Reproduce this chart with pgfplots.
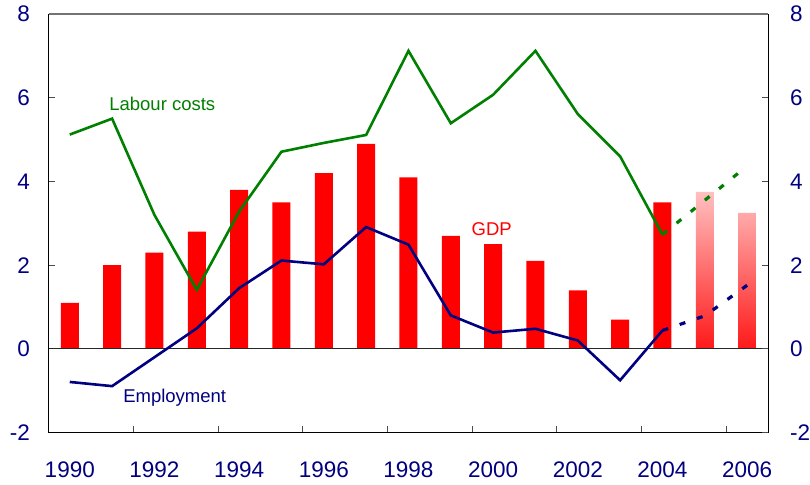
\documentclass[border=0pt]{standalone}
\usepackage{fontspec}
\setmainfont{Liberation Sans}
\usepackage{pgfplots}
\pgfplotsset{compat=1.18}
\definecolor{navyc}{RGB}{0,0,128}
\definecolor{greenc}{RGB}{0,128,0}
\definecolor{pinkc}{RGB}{255,192,192}
\definecolor{redc}{RGB}{255,0,0}
\definecolor{redb}{RGB}{255,25,25}
\begin{document}
\begin{tikzpicture}
\pgfplotsset{common/.style={
  scale only axis, width=719.7bp, height=418.6bp,
  xmin=1989.5, xmax=2006.5, ymin=-2, ymax=8,
  tick align=inside, major tick length=6bp, minor tick length=7bp,
  tick style={draw=black!70, line width=0.8bp},
  /pgf/number format/assume math mode=true,
  /pgf/number format/1000 sep={},
  tick label style={font=\fontsize{22.5bp}{24bp}\selectfont, text=navyc, inner sep=0pt},
  axis line style={-, line width=1.1bp},
  ytick={-2,0,2,4,6,8},
}}
\begin{axis}[common, name=main,
  axis x line*=bottom, axis y line*=left,
  xtick={1990,1992,1994,1996,1998,2000,2002,2004,2006},
  minor xtick={1991.5,1993.5,1995.5,1997.5,1999.5,2001.5,2003.5,2005.5},
  every major x tick/.append style={draw=none},
  every minor x tick/.append style={draw=black!70, line width=0.8bp},
  xticklabel style={anchor=north, yshift=-28.7bp},
  yticklabel style={anchor=east, xshift=-18.5bp},
]
\addplot[ybar, bar width=18bp, bar shift=0pt, fill=redc, draw=none] coordinates {
 (1990,1.1) (1991,2.0) (1992,2.3) (1993,2.8) (1994,3.8) (1995,3.5) (1996,4.2)
 (1997,4.9) (1998,4.1) (1999,2.7) (2000,2.5) (2001,2.1) (2002,1.4) (2003,0.7) (2004,3.5)};
\addplot[ybar, bar width=18bp, bar shift=0pt, draw=none, top color=pinkc, bottom color=redb] coordinates {
 (2005,3.75) (2006,3.25)};
\draw[black!85, line width=1.1bp] (axis cs:1989.5,0) -- (axis cs:2006.5,0);
\addplot[greenc, line width=2.6bp] coordinates {
 (1990,5.12) (1991,5.5) (1992,3.2) (1993,1.41) (1994,3.28) (1995,4.71) (1996,4.92)
 (1997,5.11) (1998,7.12) (1999,5.39) (2000,6.07) (2001,7.12) (2002,5.61) (2003,4.6) (2004,2.73)};
\addplot[greenc, line width=3.2bp, dash pattern=on 6bp off 12.2bp] coordinates {
 (2004,2.73) (2005,3.55) (2006,4.37)};
\addplot[navyc, line width=2.6bp] coordinates {
 (1990,-0.79) (1991,-0.89) (1992,-0.2) (1993,0.49) (1994,1.45) (1995,2.11) (1996,2.02)
 (1997,2.91) (1998,2.49) (1999,0.8) (2000,0.39) (2001,0.48) (2002,0.2) (2003,-0.75) (2004,0.44)};
\addplot[navyc, line width=3.2bp, dash pattern=on 6bp off 12.2bp] coordinates {
 (2004,0.44) (2005,0.79) (2006,1.52)};
\node[anchor=base west, inner sep=0pt, text=greenc, font=\fontsize{18.5bp}{22bp}\selectfont] at (axis cs:1990.93,5.69) {Labour costs};
\node[anchor=base west, inner sep=0pt, text=redc, font=\fontsize{18.5bp}{22bp}\selectfont] at (axis cs:1999.49,2.72) {GDP};
\node[anchor=base west, inner sep=0pt, text=navyc, font=\fontsize{18.5bp}{22bp}\selectfont] at (axis cs:1991.26,-1.27) {Employment};
\end{axis}
\begin{axis}[common,
  axis x line*=top, axis y line*=right,
  x axis line style={draw=black!55, line width=1.6bp},
  xtick=\empty,
  yticklabel style={anchor=west, xshift=21.5bp},
]
\end{axis}
\pgfresetboundingbox
\path (main.south west) ++(-48.6bp,-51.5bp) coordinate (bl);
\path (main.north east) ++(41.7bp,14bp) coordinate (tr);
\path (bl) rectangle (tr);
\end{tikzpicture}
\end{document}
